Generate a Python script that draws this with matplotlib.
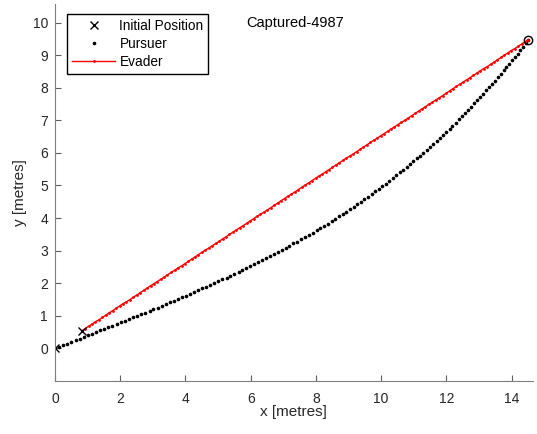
import numpy as np
import matplotlib
matplotlib.use('Agg')
import matplotlib.pyplot as plt

plt.rcParams['font.family'] = ['Liberation Sans', 'DejaVu Sans']

# positions in centimetres, converted to metres below
pursuer_x = np.array([0, 13, 25, 38, 50, 63, 76, 88, 101, 113, 126, 139, 151, 164, 176, 189, 202, 214, 227, 239,
                      252, 264, 277, 290, 302, 315, 327, 340, 352, 365, 377, 390, 402, 414, 427, 439, 452, 464, 476, 489,
                      501, 513, 526, 538, 550, 563, 575, 587, 599, 611, 623, 635, 648, 660, 672, 684, 696, 707, 719, 731,
                      743, 755, 767, 778, 790, 802, 813, 825, 836, 848, 859, 871, 882, 893, 905, 916, 927, 938, 949, 960,
                      971, 982, 993, 1004, 1015, 1025, 1036, 1047, 1057, 1068, 1078, 1089, 1099, 1109, 1120, 1130, 1140, 1150, 1160, 1170,
                      1180, 1190, 1200, 1210, 1219, 1229, 1238, 1248, 1257, 1267, 1276, 1286, 1295, 1304, 1313, 1322, 1331, 1340, 1349, 1358,
                      1367, 1376, 1384, 1393, 1402, 1410, 1419, 1427, 1435, 1444, 1452]) / 100
pursuer_y = np.array([0, 5, 10, 15, 20, 25, 30, 35, 40, 45, 50, 55, 60, 65, 70, 75, 80, 85, 90, 95,
                      100, 105, 110, 115, 120, 125, 131, 136, 141, 146, 152, 157, 162, 168, 173, 178, 184, 189, 195, 200,
                      206, 212, 217, 223, 229, 235, 241, 247, 252, 258, 265, 271, 277, 283, 289, 296, 302, 308, 315, 322,
                      328, 335, 342, 348, 355, 362, 369, 376, 383, 391, 398, 405, 413, 420, 427, 435, 443, 450, 458, 466,
                      474, 482, 490, 498, 506, 515, 523, 531, 540, 548, 557, 566, 574, 583, 592, 601, 610, 619, 628, 637,
                      646, 656, 665, 674, 684, 693, 703, 713, 722, 732, 742, 752, 762, 771, 781, 792, 802, 812, 822, 832,
                      843, 853, 863, 874, 884, 895, 905, 916, 926, 937, 948]) / 100

evader_x = np.array([82, 93, 103, 114, 124, 135, 145, 156, 166, 177, 187, 198, 208, 219, 230, 240, 251, 261, 272, 282,
                     293, 303, 314, 324, 335, 345, 356, 367, 377, 388, 398, 409, 419, 430, 440, 451, 461, 472, 482, 493,
                     504, 514, 525, 535, 546, 556, 567, 577, 588, 598, 609, 619, 630, 641, 651, 662, 672, 683, 693, 704,
                     714, 725, 735, 746, 756, 767, 778, 788, 799, 809, 820, 830, 841, 851, 862, 872, 883, 893, 904, 915,
                     925, 936, 946, 957, 967, 978, 988, 999, 1009, 1020, 1030, 1041, 1052, 1062, 1073, 1083, 1094, 1104, 1115, 1125,
                     1136, 1146, 1157, 1167, 1178, 1189, 1199, 1210, 1220, 1231, 1241, 1252, 1262, 1273, 1283, 1294, 1304, 1315, 1326, 1336,
                     1347, 1357, 1368, 1378, 1389, 1399, 1410, 1420, 1431, 1441, 1452]) / 100
evader_y = np.array([54, 61, 68, 75, 82, 88, 95, 102, 109, 116, 123, 130, 137, 143, 150, 157, 164, 171, 178, 185,
                     192, 198, 205, 212, 219, 226, 233, 240, 247, 253, 260, 267, 274, 281, 288, 295, 302, 308, 315, 322,
                     329, 336, 343, 350, 357, 363, 370, 377, 384, 391, 398, 405, 412, 418, 425, 432, 439, 446, 453, 460,
                     467, 473, 480, 487, 494, 501, 508, 515, 522, 529, 535, 542, 549, 556, 563, 570, 577, 584, 590, 597,
                     604, 611, 618, 625, 632, 639, 645, 652, 659, 666, 673, 680, 687, 694, 700, 707, 714, 721, 728, 735,
                     742, 749, 755, 762, 769, 776, 783, 790, 797, 804, 810, 817, 824, 831, 838, 845, 852, 859, 865, 872,
                     879, 886, 893, 900, 907, 914, 920, 927, 934, 941, 948]) / 100

fig = plt.figure(figsize=(5.37, 4.34), dpi=100)
ax = fig.add_axes([55/537, 53/434, 477.7/537, 377/434])
ax.plot(pursuer_x, pursuer_y, 'k.', ms=3.2, label='Pursuer')
ax.plot(evader_x, evader_y, 'r.-', ms=2, lw=1, label='Evader')
# start points and capture point
ax.plot([pursuer_x[0], evader_x[0]], [pursuer_y[0], evader_y[0]], 'kx', ms=6, label='Initial Position')
ax.plot([evader_x[-1]], [evader_y[-1]], 'ko', mfc='none', ms=6)

ax.set_xlim(0, 14.65)
ax.set_ylim(-1, 10.57)
ax.spines[['top', 'right']].set_visible(False)
for sp in ax.spines.values():
    sp.set_color('#808080')
ax.tick_params(direction='in', length=4, colors='#606060', labelcolor='#262626', labelsize=10)
ax.tick_params(axis='x', pad=8)
ax.tick_params(axis='y', pad=5)
ax.set_xticks(range(0, 15, 2))
ax.set_yticks(range(0, 11))
ax.set_xlabel('x [metres]', fontsize=11, color='#262626', labelpad=-1)
ax.set_ylabel('y [metres]', fontsize=11, color='#262626', labelpad=4)

h, l = ax.get_legend_handles_labels()
ax.legend([h[2], h[0], h[1]], [l[2], l[0], l[1]], loc='upper left',
          bbox_to_anchor=(12/477.7, 1 - 10/377), fontsize=9.8,
          handlelength=3.2, handletextpad=0.3, borderpad=0.35, fancybox=False,
          edgecolor='k', framealpha=1, borderaxespad=0, labelspacing=0.3)
ax.text(7.36, 10.0, 'Captured-4987', ha='center', va='center', fontsize=10.5)

fig.savefig('out.png', dpi=100)
